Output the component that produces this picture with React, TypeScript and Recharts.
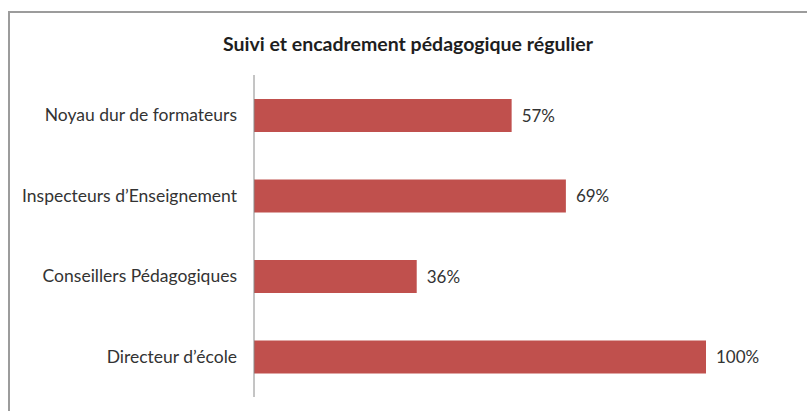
import React from 'react';
import { BarChart, Bar, XAxis, YAxis, LabelList } from 'recharts';

const categories = [
  'Noyau dur de formateurs',
  'Inspecteurs d\u2019Enseignement',
  'Conseillers P\u00e9dagogiques',
  'Directeur d\u2019\u00e9cole',
];
const values = [57, 69, 36, 100];
const title = 'Suivi et encadrement p\u00e9dagogique r\u00e9gulier';

const data = categories.map((name, i) => ({ name, value: values[i] }));

const font = 'Lato, "Open Sans", sans-serif';

const App: React.FC = () => {
  return (
    <div style={{ position: 'absolute', left: 0, top: 0, width: 807, height: 411, background: '#fff' }}>
      <div
        style={{
          position: 'absolute',
          left: 8,
          top: 11,
          width: 799,
          height: 400,
          borderTop: '2px solid #9c9c9c',
          borderLeft: '2px solid #9c9c9c',
          boxSizing: 'border-box',
        }}
      />
      <div
        style={{
          position: 'absolute',
          left: 9,
          width: 798,
          top: 32,
          textAlign: 'center',
          fontFamily: font,
          fontWeight: 700,
          fontSize: 19.5,
          color: '#1e1e1e',
        }}
      >
        {title}
      </div>
      <div style={{ position: 'absolute', left: 0, top: 0 }}>
        <BarChart
          width={807}
          height={411}
          data={data}
          layout="vertical"
          margin={{ top: 75, right: 101, bottom: 14, left: 0 }}
        >
          <XAxis type="number" domain={[0, 100]} hide />
          <YAxis
            type="category"
            dataKey="name"
            width={254}
            tickLine={false}
            tickSize={0}
            tickMargin={17}
            axisLine={{ stroke: '#8a8a8a' }}
            tick={{ fill: '#333333', fontSize: 17.5, fontFamily: font }}
          />
          <Bar dataKey="value" fill="#c0504d" barSize={33} isAnimationActive={false}>
            <LabelList
              dataKey="value"
              position="right"
              offset={10}
              formatter={(v: number) => `${v}%`}
              style={{ fill: '#333333', fontSize: 17, fontFamily: font }}
            />
          </Bar>
        </BarChart>
      </div>
    </div>
  );
};

export default App;
